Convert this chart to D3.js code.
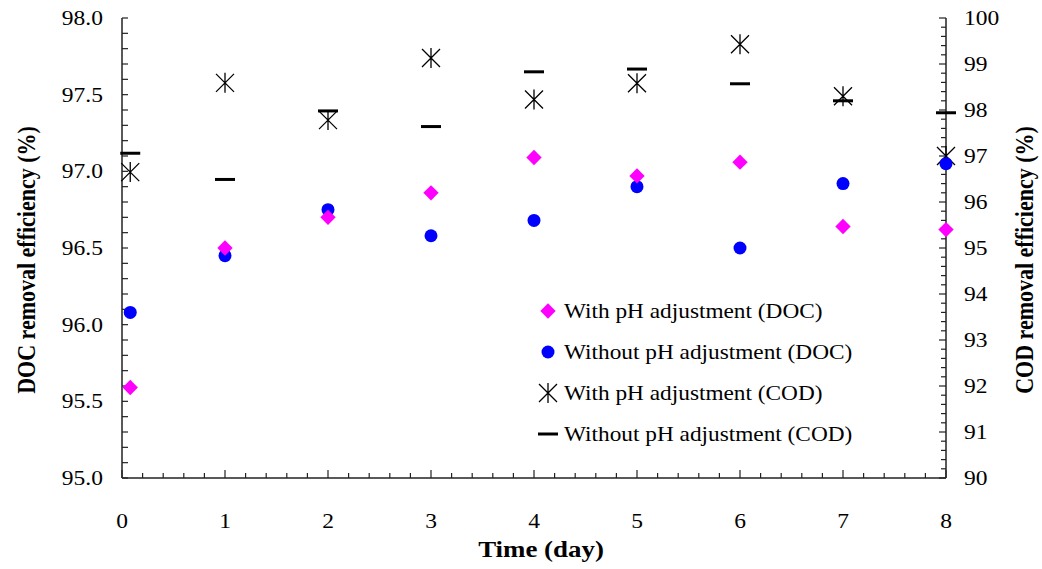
<!DOCTYPE html>
<html>
<head>
<meta charset="utf-8">
<script src="https://cdn.jsdelivr.net/npm/d3@7"></script>
<style>
  body { margin: 0; background: #fff; }
  text { font-family: "Liberation Serif", "Times New Roman", serif; fill: #000; }
</style>
</head>
<body>
<script>
// ─── DATA ───────────────────────────────────────────────────────────────
const days       = [0.08, 1, 2, 3, 4, 5, 6, 7, 8];
const docWithPH  = [95.59, 96.50, 96.70, 96.86, 97.09, 96.97, 97.06, 96.64, 96.62];
const docNoPH    = [96.08, 96.45, 96.75, 96.58, 96.68, 96.90, 96.50, 96.92, 97.05];
const codWithPH  = [96.65, 98.59, 97.78, 99.13, 98.23, 98.58, 99.43, 98.30, 97.00];
const codNoPH    = [97.06, 96.49, 97.98, 97.64, 98.83, 98.89, 98.57, 98.20, 97.94];
const xTicks     = [0, 1, 2, 3, 4, 5, 6, 7, 8];
const leftTicks  = [95.0, 95.5, 96.0, 96.5, 97.0, 97.5, 98.0];
const rightTicks = [90, 91, 92, 93, 94, 95, 96, 97, 98, 99, 100];
const legendLabels = [
  "With pH adjustment (DOC)",
  "Without pH adjustment (DOC)",
  "With pH adjustment (COD)",
  "Without pH adjustment (COD)"
];

// ─── LAYOUT ─────────────────────────────────────────────────────────────
const width = 1042, height = 569;
const plot = { left: 122, right: 946, top: 18, bottom: 478 };
const stretch = 1.12;   // the source figure is a little wider than tall

const x  = d3.scaleLinear().domain([0, 8]).range([plot.left, plot.right]);
const yL = d3.scaleLinear().domain([95, 98]).range([plot.bottom, plot.top]);
const yR = d3.scaleLinear().domain([90, 100]).range([plot.bottom, plot.top]);

const svg = d3.select("body").append("svg")
  .attr("width", width)
  .attr("height", height);

const axisColor = "#222";

// ─── AXES ───────────────────────────────────────────────────────────────
// bottom: minor ticks every 0.2, major at integers (pointing up)
const gx = svg.append("g");
gx.append("line")
  .attr("x1", plot.left).attr("x2", plot.right)
  .attr("y1", plot.bottom).attr("y2", plot.bottom)
  .attr("stroke", axisColor).attr("stroke-width", 1.5);
gx.selectAll("line.minor")
  .data(d3.range(0, 8.001, 0.2))
  .join("line")
    .attr("class", "minor")
    .attr("x1", d => x(d)).attr("x2", d => x(d))
    .attr("y1", plot.bottom)
    .attr("y2", d => Math.abs(d - Math.round(d)) < 1e-6 ? plot.bottom - 8 : plot.bottom - 5)
    .attr("stroke", axisColor).attr("stroke-width", 1.2);
gx.selectAll("text")
  .data(xTicks)
  .join("text")
    .attr("transform", d => `translate(${x(d)},528) scale(${stretch},1)`)
    .attr("text-anchor", "middle")
    .attr("font-size", 21)
    .text(d => d);

// left: minor ticks every 0.1 (pointing right)
const gl = svg.append("g");
gl.append("line")
  .attr("x1", plot.left).attr("x2", plot.left)
  .attr("y1", plot.top).attr("y2", plot.bottom)
  .attr("stroke", axisColor).attr("stroke-width", 1.5);
gl.selectAll("line.tick")
  .data(d3.range(95, 98.001, 0.1))
  .join("line")
    .attr("class", "tick")
    .attr("x1", plot.left).attr("x2", plot.left + 6)
    .attr("y1", d => yL(d)).attr("y2", d => yL(d))
    .attr("stroke", axisColor).attr("stroke-width", 1.2);
gl.selectAll("text")
  .data(leftTicks)
  .join("text")
    .attr("transform", d => `translate(103,${yL(d) + 7}) scale(${stretch},1)`)
    .attr("text-anchor", "end")
    .attr("font-size", 21)
    .text(d => d.toFixed(1));

// right: minor ticks every 0.2, major at integers (pointing left)
const gr = svg.append("g");
gr.append("line")
  .attr("x1", plot.right).attr("x2", plot.right)
  .attr("y1", plot.top).attr("y2", plot.bottom)
  .attr("stroke", axisColor).attr("stroke-width", 1.5);
gr.selectAll("line.tick")
  .data(d3.range(90, 100.001, 0.2))
  .join("line")
    .attr("class", "tick")
    .attr("x1", plot.right)
    .attr("x2", d => Math.abs(d - Math.round(d)) < 1e-6 ? plot.right - 7 : plot.right - 5)
    .attr("y1", d => yR(d)).attr("y2", d => yR(d))
    .attr("stroke", axisColor).attr("stroke-width", 1.2);
gr.selectAll("text")
  .data(rightTicks)
  .join("text")
    .attr("transform", d => `translate(964,${yR(d) + 7}) scale(${stretch},1)`)
    .attr("text-anchor", "start")
    .attr("font-size", 21)
    .text(d => d);

// axis titles
svg.append("text")
  .attr("transform", `translate(541,557) scale(${stretch + 0.05},1)`)
  .attr("text-anchor", "middle")
  .attr("font-size", 23).attr("font-weight", "bold")
  .text("Time (day)");
svg.append("text")
  .attr("transform", `translate(35,${(plot.top + plot.bottom) / 2 + 12}) rotate(-90) scale(1,${stretch + 0.05})`)
  .attr("text-anchor", "middle")
  .attr("font-size", 22).attr("font-weight", "bold")
  .text("DOC removal efficiency (%)");
svg.append("text")
  .attr("transform", `translate(1033,${(plot.top + plot.bottom) / 2 + 12}) rotate(-90) scale(1,${stretch + 0.05})`)
  .attr("text-anchor", "middle")
  .attr("font-size", 22).attr("font-weight", "bold")
  .text("COD removal efficiency (%)");

// ─── MARKERS ────────────────────────────────────────────────────────────
const diamond = d3.symbol().type(d3.symbolDiamond2).size(150)();
const star = "M-9,-9L9,9M-9,9L9,-9M0,-10L0,10";
const dash = "M-10,0L10,0";

function drawDiamond(g, cx, cy) {
  g.append("path").attr("d", diamond)
    .attr("transform", `translate(${cx},${cy})`)
    .attr("fill", "#ff00ff");
}
function drawCircle(g, cx, cy) {
  g.append("circle").attr("cx", cx).attr("cy", cy).attr("r", 6.5)
    .attr("fill", "#0000ff");
}
function drawStar(g, cx, cy) {
  g.append("path").attr("d", star)
    .attr("transform", `translate(${cx},${cy})`)
    .attr("fill", "none").attr("stroke", "#000").attr("stroke-width", 1.3);
}
function drawDash(g, cx, cy) {
  g.append("path").attr("d", dash)
    .attr("transform", `translate(${cx},${cy})`)
    .attr("fill", "none").attr("stroke", "#000").attr("stroke-width", 3);
}

const marks = svg.append("g");
days.forEach((d, i) => drawDash(marks, x(d), yR(codNoPH[i])));
days.forEach((d, i) => drawStar(marks, x(d), yR(codWithPH[i])));
days.forEach((d, i) => drawCircle(marks, x(d), yL(docNoPH[i])));
days.forEach((d, i) => drawDiamond(marks, x(d), yL(docWithPH[i])));

// ─── LEGEND ─────────────────────────────────────────────────────────────
const legend = svg.append("g");
const drawers = [drawDiamond, drawCircle, drawStar, drawDash];
legendLabels.forEach((label, i) => {
  const ly = 311 + i * 41;
  drawers[i](legend, 548, ly);
  legend.append("text")
    .attr("transform", `translate(564,${ly + 7}) scale(1.11,1)`)
    .attr("font-size", 21)
    .text(label);
});
</script>
</body>
</html>
